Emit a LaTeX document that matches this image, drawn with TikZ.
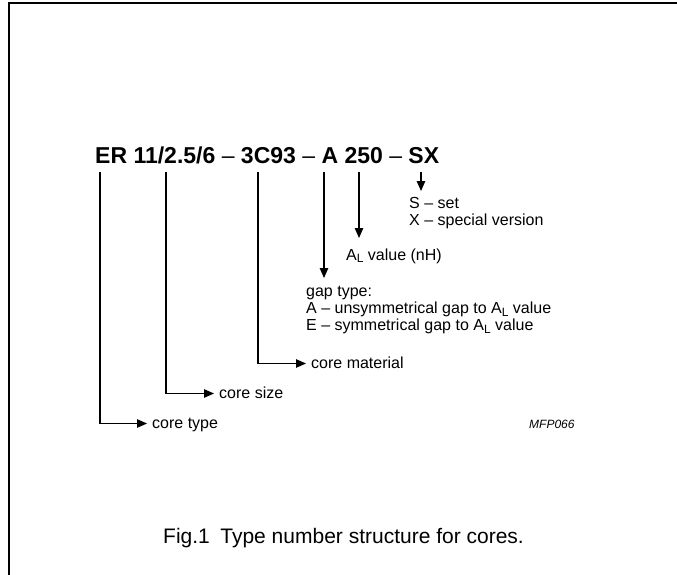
\documentclass[tikz,border=0pt]{standalone}
\usepackage{fontspec}
\setmainfont{Liberation Sans}
\usetikzlibrary{arrows.meta}
\newcommand{\subL}{\raisebox{-0.35ex}{\fontsize{12}{12}\selectfont L}}
\begin{document}
\begin{tikzpicture}[x=1pt,y=-1pt,
  conn/.style={line width=1.1pt,-{Triangle[length=10pt,width=8.5pt]}},
  lbl/.style={font=\fontsize{16}{17}\selectfont, inner sep=0pt, anchor=base west},
  blk/.style={font=\fontsize{16}{17}\selectfont, inner sep=0pt, anchor=north west, align=left},
]
\useasboundingbox (0,0) rectangle (677,575);
\draw[line width=2.2pt] (9,575) -- (9,3) -- (677,3);
\node[anchor=base west, inner sep=0pt, font=\fontsize{23}{26}\selectfont\bfseries] (title) at (95,164)
  {ER 11/2.5/6 {\mdseries --} 3C93 {\mdseries --} A 250 {\mdseries --} SX};
% tops of the leaders
\coordinate (tER) at (100,172);
\coordinate (tSZ) at (166,172);
\coordinate (tMT) at (258,172);
\coordinate (tA)  at (324,172);
\coordinate (tAL) at (359,172);
\coordinate (tSX) at (421,172);
% vertical arrows
\coordinate (eSX) at (421,191);
\coordinate (eAL) at (359,238);
\coordinate (eA)  at (324,278);
\node[blk] (sx) at (409,197) {S -- set\\X -- special version};
\node[lbl] (al) at (346,260) {A\subL{} value (nH)};
\node[blk] (gap) at (306,286) {gap type:\\A -- unsymmetrical gap to A\subL{} value\\E -- symmetrical gap to A\subL{} value};
\draw[conn] (tSX) -- (eSX);
\draw[conn] (tAL) -- (eAL);
\draw[conn] (tA) -- (eA);
% horizontal arrows
\node[lbl] (mat) at (311,368) {core material};
\node[lbl] (size) at (219,398) {core size};
\node[lbl] (type) at (152,428) {core type};
\draw[conn] (tMT) |- ([xshift=-5pt,yshift=4.5pt]mat.base west);
\draw[conn] (tSZ) |- ([xshift=-5pt,yshift=4.5pt]size.base west);
\draw[conn] (tER) |- ([xshift=-5pt,yshift=4.5pt]type.base west);
\node[anchor=base west, inner sep=0pt, font=\fontsize{12}{14}\selectfont\itshape] (mfp) at (529,428) {MFP066};
\node[anchor=base west, inner sep=0pt, font=\fontsize{21}{24}\selectfont] (cap) at (163,543) {Fig.1\enspace Type number structure for cores.};
\end{tikzpicture}
\end{document}
